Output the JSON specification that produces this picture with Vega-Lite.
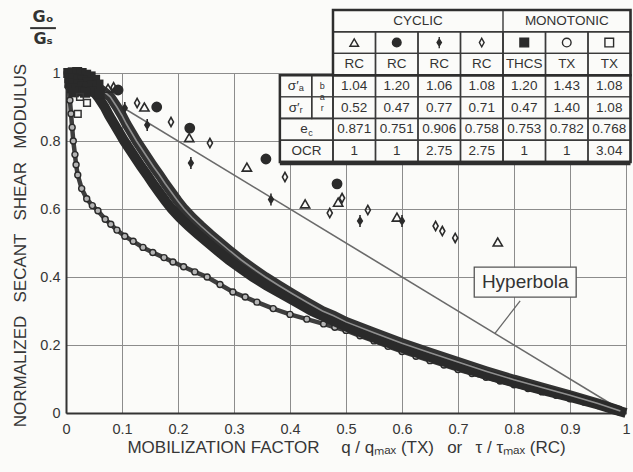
{
  "$schema": "https://vega.github.io/schema/vega-lite/v6.json",
  "width": 560,
  "height": 340,
  "autosize": {"type": "none"},
  "padding": {"left": 66, "top": 73, "right": 7, "bottom": 59},
  "background": "#fbfbf9",
  "config": {"view": {"stroke": null}, "font": "Liberation Sans"},
  "datasets": {
    "hyper": [{"x": 0, "y": 1}, {"x": 1, "y": 0}],
    "circ": [
      {"x": 0.002, "y": 1.0}, {"x": 0.004, "y": 0.96}, {"x": 0.007, "y": 0.92}, {"x": 0.009, "y": 0.88}, {"x": 0.011, "y": 0.84}, {"x": 0.013, "y": 0.8}, {"x": 0.016, "y": 0.76}, {"x": 0.018, "y": 0.73}, {"x": 0.021, "y": 0.7}, {"x": 0.028, "y": 0.66}, {"x": 0.037, "y": 0.63}, {"x": 0.047, "y": 0.61}, {"x": 0.057, "y": 0.595}, {"x": 0.07, "y": 0.57}, {"x": 0.08, "y": 0.555}, {"x": 0.091, "y": 0.538}, {"x": 0.105, "y": 0.52}, {"x": 0.12, "y": 0.505}, {"x": 0.1375, "y": 0.487}, {"x": 0.155, "y": 0.472}, {"x": 0.175, "y": 0.457}, {"x": 0.191, "y": 0.444}, {"x": 0.21, "y": 0.43}, {"x": 0.23, "y": 0.415}, {"x": 0.252, "y": 0.4}, {"x": 0.275, "y": 0.378}, {"x": 0.298, "y": 0.356}, {"x": 0.32, "y": 0.341}, {"x": 0.341, "y": 0.326}, {"x": 0.37, "y": 0.307}, {"x": 0.4, "y": 0.29}, {"x": 0.43, "y": 0.276}, {"x": 0.46, "y": 0.262}, {"x": 0.48, "y": 0.252}, {"x": 0.5, "y": 0.243}, {"x": 0.525, "y": 0.227}, {"x": 0.55, "y": 0.212}, {"x": 0.575, "y": 0.196}, {"x": 0.6, "y": 0.181}, {"x": 0.625, "y": 0.167}, {"x": 0.65, "y": 0.154}, {"x": 0.675, "y": 0.141}, {"x": 0.7, "y": 0.128}, {"x": 0.725, "y": 0.116}, {"x": 0.75, "y": 0.105}, {"x": 0.775, "y": 0.094}, {"x": 0.8, "y": 0.083}, {"x": 0.825, "y": 0.072}, {"x": 0.85, "y": 0.062}, {"x": 0.875, "y": 0.052}, {"x": 0.9, "y": 0.042}, {"x": 0.925, "y": 0.032}, {"x": 0.95, "y": 0.022}, {"x": 0.97, "y": 0.013}, {"x": 0.99, "y": 0.004}
    ],
    "bandA": [
      {"x": 0.03, "y": 0.975}, {"x": 0.045, "y": 0.955}, {"x": 0.057, "y": 0.93}, {"x": 0.069, "y": 0.9}, {"x": 0.077, "y": 0.875}, {"x": 0.086, "y": 0.85}, {"x": 0.095, "y": 0.825}, {"x": 0.104, "y": 0.8}, {"x": 0.114, "y": 0.775}, {"x": 0.124, "y": 0.75}, {"x": 0.134, "y": 0.725}, {"x": 0.145, "y": 0.7}, {"x": 0.155, "y": 0.675}, {"x": 0.166, "y": 0.65}, {"x": 0.177, "y": 0.625}, {"x": 0.189, "y": 0.6}, {"x": 0.203, "y": 0.575}, {"x": 0.219, "y": 0.55}, {"x": 0.236, "y": 0.525}, {"x": 0.254, "y": 0.5}, {"x": 0.272, "y": 0.475}, {"x": 0.291, "y": 0.45}, {"x": 0.312, "y": 0.425}, {"x": 0.334, "y": 0.4}, {"x": 0.358, "y": 0.375}, {"x": 0.385, "y": 0.35}, {"x": 0.412, "y": 0.325}, {"x": 0.439, "y": 0.3}, {"x": 0.468, "y": 0.278}, {"x": 0.5, "y": 0.255}, {"x": 0.55, "y": 0.222}, {"x": 0.6, "y": 0.192}, {"x": 0.65, "y": 0.165}, {"x": 0.7, "y": 0.138}, {"x": 0.75, "y": 0.113}, {"x": 0.8, "y": 0.09}, {"x": 0.85, "y": 0.068}, {"x": 0.9, "y": 0.047}, {"x": 0.95, "y": 0.025}, {"x": 0.98, "y": 0.01}, {"x": 1.0, "y": 0.0}
    ],
    "bandB": [
      {"x": 0.05, "y": 0.965}, {"x": 0.068, "y": 0.945}, {"x": 0.079, "y": 0.93}, {"x": 0.091, "y": 0.9}, {"x": 0.1, "y": 0.875}, {"x": 0.108, "y": 0.85}, {"x": 0.117, "y": 0.825}, {"x": 0.126, "y": 0.8}, {"x": 0.136, "y": 0.775}, {"x": 0.146, "y": 0.75}, {"x": 0.156, "y": 0.725}, {"x": 0.167, "y": 0.7}, {"x": 0.177, "y": 0.675}, {"x": 0.188, "y": 0.65}, {"x": 0.199, "y": 0.625}, {"x": 0.211, "y": 0.6}, {"x": 0.225, "y": 0.575}, {"x": 0.241, "y": 0.55}, {"x": 0.258, "y": 0.525}, {"x": 0.276, "y": 0.5}, {"x": 0.294, "y": 0.475}, {"x": 0.313, "y": 0.45}, {"x": 0.334, "y": 0.425}, {"x": 0.356, "y": 0.4}, {"x": 0.38, "y": 0.375}, {"x": 0.405, "y": 0.35}, {"x": 0.431, "y": 0.325}, {"x": 0.458, "y": 0.3}, {"x": 0.478, "y": 0.286}, {"x": 0.5, "y": 0.268}, {"x": 0.55, "y": 0.236}, {"x": 0.6, "y": 0.205}, {"x": 0.65, "y": 0.177}, {"x": 0.7, "y": 0.15}, {"x": 0.75, "y": 0.123}, {"x": 0.8, "y": 0.098}, {"x": 0.85, "y": 0.075}, {"x": 0.9, "y": 0.052}, {"x": 0.95, "y": 0.028}, {"x": 0.99, "y": 0.006}
    ],
    "cluster": [
      {"x": 0.004, "y": 1.0}, {"x": 0.012, "y": 1.002}, {"x": 0.02, "y": 1.003}, {"x": 0.028, "y": 1.0}, {"x": 0.036, "y": 0.995}, {"x": 0.044, "y": 0.99}, {"x": 0.052, "y": 0.98}, {"x": 0.058, "y": 0.966},
      {"x": 0.006, "y": 0.985}, {"x": 0.014, "y": 0.984}, {"x": 0.022, "y": 0.982}, {"x": 0.03, "y": 0.978}, {"x": 0.038, "y": 0.972}, {"x": 0.046, "y": 0.962}, {"x": 0.054, "y": 0.95},
      {"x": 0.006, "y": 0.97}, {"x": 0.014, "y": 0.968}, {"x": 0.022, "y": 0.965}, {"x": 0.03, "y": 0.96}, {"x": 0.038, "y": 0.954}, {"x": 0.046, "y": 0.945},
      {"x": 0.01, "y": 0.955}, {"x": 0.018, "y": 0.95}, {"x": 0.026, "y": 0.946}, {"x": 0.034, "y": 0.942}, {"x": 0.06, "y": 0.94}, {"x": 0.014, "y": 0.943}
    ],
    "osq": [{"x": 0.025, "y": 0.93}, {"x": 0.0375, "y": 0.912}, {"x": 0.021, "y": 0.88}],
    "cyc": [
      {"x": 0.075, "y": 0.955, "s": "tri"}, {"x": 0.14, "y": 0.9, "s": "tri"}, {"x": 0.22, "y": 0.81, "s": "tri"}, {"x": 0.323, "y": 0.723, "s": "tri"}, {"x": 0.427, "y": 0.615, "s": "tri"}, {"x": 0.486, "y": 0.62, "s": "tri"}, {"x": 0.591, "y": 0.576, "s": "tri"}, {"x": 0.771, "y": 0.503, "s": "tri"},
      {"x": 0.093, "y": 0.95, "s": "dot"}, {"x": 0.162, "y": 0.9, "s": "dot"}, {"x": 0.221, "y": 0.838, "s": "dot"}, {"x": 0.357, "y": 0.747, "s": "dot"}, {"x": 0.484, "y": 0.674, "s": "dot"},
      {"x": 0.105, "y": 0.897, "s": "fdia"}, {"x": 0.145, "y": 0.847, "s": "fdia"}, {"x": 0.223, "y": 0.735, "s": "fdia"}, {"x": 0.366, "y": 0.628, "s": "fdia"}, {"x": 0.525, "y": 0.565, "s": "fdia"}, {"x": 0.6, "y": 0.565, "s": "fdia"},
      {"x": 0.085, "y": 0.958, "s": "odia"}, {"x": 0.127, "y": 0.912, "s": "odia"}, {"x": 0.1875, "y": 0.856, "s": "odia"}, {"x": 0.257, "y": 0.794, "s": "odia"}, {"x": 0.391, "y": 0.694, "s": "odia"}, {"x": 0.493, "y": 0.632, "s": "odia"}, {"x": 0.471, "y": 0.588, "s": "odia"}, {"x": 0.539, "y": 0.597, "s": "odia"}, {"x": 0.66, "y": 0.55, "s": "odia"}, {"x": 0.672, "y": 0.535, "s": "odia"}, {"x": 0.695, "y": 0.515, "s": "odia"}
    ],
    "tabrows": [
      {"u0": 0, "u1": 7, "r0": 0, "r1": 1}, {"u0": 0, "u1": 7, "r0": 1, "r1": 2}, {"u0": 0, "u1": 7, "r0": 2, "r1": 3},
      {"u0": -1.25, "u1": 7, "r0": 3, "r1": 4}, {"u0": -1.25, "u1": 7, "r0": 4, "r1": 5}, {"u0": -1.25, "u1": 7, "r0": 5, "r1": 6}, {"u0": -1.25, "u1": 7, "r0": 6, "r1": 7}
    ],
    "tabcols": [
      {"u0": 0, "u1": 4, "r0": 0, "r1": 7}, {"u0": 0, "u1": 1, "r0": 1, "r1": 7}, {"u0": 1, "u1": 2, "r0": 1, "r1": 7}, {"u0": 2, "u1": 3, "r0": 1, "r1": 7}, {"u0": 3, "u1": 4, "r0": 1, "r1": 7}, {"u0": 4, "u1": 5, "r0": 1, "r1": 7}, {"u0": 5, "u1": 6, "r0": 1, "r1": 7}, {"u0": 6, "u1": 7, "r0": 1, "r1": 7},
      {"u0": -1.25, "u1": -0.5, "r0": 3, "r1": 5}, {"u0": -0.5, "u1": 0, "r0": 3, "r1": 5}, {"u0": -1.25, "u1": 0, "r0": 3, "r1": 7}
    ],
    "tabouter": [
      {"u0": 0, "u1": 7, "r0": 0, "r1": 3}, {"u0": -1.25, "u1": 7, "r0": 3, "r1": 7}
    ],
    "tabtext": [
      {"c": 2, "r": 0.5, "t": "CYCLIC"}, {"c": 5.5, "r": 0.5, "t": "MONOTONIC"},
      {"c": 0.5, "r": 2.5, "t": "RC"}, {"c": 1.5, "r": 2.5, "t": "RC"}, {"c": 2.5, "r": 2.5, "t": "RC"}, {"c": 3.5, "r": 2.5, "t": "RC"}, {"c": 4.5, "r": 2.5, "t": "THCS"}, {"c": 5.5, "r": 2.5, "t": "TX"}, {"c": 6.5, "r": 2.5, "t": "TX"},
      {"c": 0.5, "r": 3.5, "t": "1.04"}, {"c": 1.5, "r": 3.5, "t": "1.20"}, {"c": 2.5, "r": 3.5, "t": "1.06"}, {"c": 3.5, "r": 3.5, "t": "1.08"}, {"c": 4.5, "r": 3.5, "t": "1.20"}, {"c": 5.5, "r": 3.5, "t": "1.43"}, {"c": 6.5, "r": 3.5, "t": "1.08"},
      {"c": 0.5, "r": 4.5, "t": "0.52"}, {"c": 1.5, "r": 4.5, "t": "0.47"}, {"c": 2.5, "r": 4.5, "t": "0.77"}, {"c": 3.5, "r": 4.5, "t": "0.71"}, {"c": 4.5, "r": 4.5, "t": "0.47"}, {"c": 5.5, "r": 4.5, "t": "1.40"}, {"c": 6.5, "r": 4.5, "t": "1.08"},
      {"c": 0.5, "r": 5.5, "t": "0.871"}, {"c": 1.5, "r": 5.5, "t": "0.751"}, {"c": 2.5, "r": 5.5, "t": "0.906"}, {"c": 3.5, "r": 5.5, "t": "0.758"}, {"c": 4.5, "r": 5.5, "t": "0.753"}, {"c": 5.5, "r": 5.5, "t": "0.782"}, {"c": 6.5, "r": 5.5, "t": "0.768"},
      {"c": 0.5, "r": 6.5, "t": "1"}, {"c": 1.5, "r": 6.5, "t": "1"}, {"c": 2.5, "r": 6.5, "t": "2.75"}, {"c": 3.5, "r": 6.5, "t": "2.75"}, {"c": 4.5, "r": 6.5, "t": "1"}, {"c": 5.5, "r": 6.5, "t": "1"}, {"c": 6.5, "r": 6.5, "t": "3.04"},
      {"c": -0.875, "r": 3.5, "t": "σ′ₐ"}, {"c": -0.875, "r": 4.5, "t": "σ′ᵣ"}, {"c": -0.68, "r": 5.5, "t": "e"}, {"c": -0.625, "r": 6.5, "t": "OCR"}
    ],
    "tabsmall": [
      {"c": -0.25, "r": 3.5, "t": "b"}, {"c": -0.25, "r": 4.0, "t": "a"}, {"c": -0.25, "r": 4.5, "t": "r"}, {"c": -0.53, "r": 5.65, "t": "c"}
    ],
    "tabsym": [
      {"c": 0.5, "r": 1.5, "s": "tri"}, {"c": 1.5, "r": 1.5, "s": "dot"}, {"c": 2.5, "r": 1.5, "s": "fdia"}, {"c": 3.5, "r": 1.5, "s": "odia"}, {"c": 4.5, "r": 1.5, "s": "sq"}, {"c": 5.5, "r": 1.5, "s": "circ"}, {"c": 6.5, "r": 1.5, "s": "osq"}
    ]
  },
  "layer": [
    {
      "layer": [
        {
          "data": {"name": "hyper"},
          "mark": {"type": "line", "color": "#6a6a6a", "strokeWidth": 1.6},
          "encoding": {
            "x": {"field": "x", "type": "quantitative", "scale": {"domain": [0, 1], "nice": false, "zero": false},
              "axis": {"values": [0, 0.1, 0.2, 0.3, 0.4, 0.5, 0.6, 0.7, 0.8, 0.9, 1], "labelExpr": "format(datum.value, '~g')", "grid": true, "gridColor": "#8c8c8c", "gridWidth": 1, "ticks": false, "domainColor": "#333333", "domainWidth": 2, "labelFontSize": 14.5, "labelColor": "#363636", "labelPadding": 9, "labelFlush": false, "title": "MOBILIZATION FACTOR\u2003 q / qₘₐₓ (TX)\u2002 or\u2002 τ / τₘₐₓ (RC)", "titleFontSize": 17, "titleFontWeight": "normal", "titleColor": "#363636", "titlePadding": 4}},
            "y": {"field": "y", "type": "quantitative", "scale": {"domain": [0, 1], "nice": false, "zero": false},
              "axis": {"values": [0, 0.1, 0.2, 0.3, 0.4, 0.5, 0.6, 0.7, 0.8, 0.9, 1], "labelExpr": "round(datum.value * 10) % 2 == 0 ? format(datum.value, '~g') : ''", "grid": true, "gridColor": "#8c8c8c", "gridWidth": 1, "ticks": false, "domainColor": "#333333", "domainWidth": 2, "labelFontSize": 14.5, "labelColor": "#363636", "labelPadding": 6, "labelFlush": false, "title": "NORMALIZED \u2002SECANT \u2002SHEAR \u2002MODULUS", "titleFontSize": 17, "titleFontWeight": "normal", "titleColor": "#363636", "titlePadding": 10, "titleY": 172}}
          }
        },
        {
          "data": {"values": [{}]},
          "mark": {"type": "rule", "color": "#666666", "strokeWidth": 1.3},
          "encoding": {"x": {"datum": 0.811}, "y": {"datum": 0.33}, "x2": {"datum": 0.766}, "y2": {"datum": 0.234}}
        },
        {
          "data": {"name": "circ"},
          "mark": {"type": "line", "color": "#3e3e3e", "strokeWidth": 4.5},
          "encoding": {"x": {"field": "x", "type": "quantitative"}, "y": {"field": "y", "type": "quantitative"}, "order": {"field": "x"}}
        },
        {
          "data": {"name": "circ"},
          "mark": {"type": "point", "shape": "circle", "size": 36, "filled": true, "fill": "#b4b4b4", "stroke": "#2a2a2a", "strokeWidth": 1.4, "opacity": 1},
          "encoding": {"x": {"field": "x", "type": "quantitative"}, "y": {"field": "y", "type": "quantitative"}}
        },
        {
          "data": {"name": "bandB"},
          "mark": {"type": "line", "color": "#333333", "strokeWidth": 10},
          "encoding": {"x": {"field": "x", "type": "quantitative"}, "y": {"field": "y", "type": "quantitative"}, "order": {"field": "x"}}
        },
        {
          "data": {"name": "bandA"},
          "mark": {"type": "line", "color": "#2a2a2a", "strokeWidth": 10},
          "encoding": {"x": {"field": "x", "type": "quantitative"}, "y": {"field": "y", "type": "quantitative"}, "order": {"field": "x"}}
        },
        {
          "data": {"name": "bandB"},
          "mark": {"type": "line", "color": "#8f8f8f", "strokeWidth": 1.6},
          "encoding": {"x": {"field": "x", "type": "quantitative"}, "y": {"field": "y", "type": "quantitative"}, "order": {"field": "x"}}
        },
        {
          "data": {"name": "cluster"},
          "mark": {"type": "point", "shape": "square", "size": 100, "filled": true, "color": "#2a2a2a", "opacity": 1},
          "encoding": {"x": {"field": "x", "type": "quantitative"}, "y": {"field": "y", "type": "quantitative"}}
        },
        {
          "data": {"name": "osq"},
          "mark": {"type": "point", "shape": "square", "size": 45, "filled": false, "stroke": "#333333", "strokeWidth": 1.5, "opacity": 1},
          "encoding": {"x": {"field": "x", "type": "quantitative"}, "y": {"field": "y", "type": "quantitative"}}
        },
        {
          "data": {"name": "cyc"},
          "mark": {"type": "point", "filled": true, "size": 85, "stroke": "#2b2b2b", "strokeWidth": 1.6, "opacity": 1},
          "encoding": {
            "x": {"field": "x", "type": "quantitative"},
            "y": {"field": "y", "type": "quantitative"},
            "shape": {"field": "s", "type": "nominal", "legend": null, "scale": {"domain": ["tri", "dot", "fdia", "odia", "sq", "circ", "osq"], "range": ["triangle-up", "circle", "M0,-1.3L0,1.3M0,-0.8L0.5,0L0,0.8L-0.5,0Z", "M0,-1L0.55,0L0,1L-0.55,0Z", "square", "circle", "square"]}},
            "fill": {"field": "s", "type": "nominal", "legend": null, "scale": {"domain": ["tri", "dot", "fdia", "odia", "sq", "circ", "osq"], "range": ["transparent", "#2b2b2b", "#2b2b2b", "transparent", "#2b2b2b", "transparent", "transparent"]}}
          }
        },
        {
          "data": {"values": [{}]},
          "mark": {"type": "rect", "fill": "#555555", "xOffset": 2, "yOffset": 2},
          "encoding": {"x": {"datum": 0.729}, "x2": {"datum": 0.911}, "y": {"datum": 0.429}, "y2": {"datum": 0.341}}
        },
        {
          "data": {"values": [{}]},
          "mark": {"type": "rect", "fill": "#fbfbf9", "stroke": "#555555", "strokeWidth": 1.3},
          "encoding": {"x": {"datum": 0.729}, "x2": {"datum": 0.911}, "y": {"datum": 0.429}, "y2": {"datum": 0.341}}
        },
        {
          "data": {"values": [{}]},
          "mark": {"type": "text", "text": "Hyperbola", "fontSize": 19, "color": "#333333", "align": "center", "baseline": "middle"},
          "encoding": {"x": {"datum": 0.82}, "y": {"datum": 0.385}}
        },
        {
          "data": {"values": [{}]},
          "mark": {"type": "text", "text": "Gₒ", "fontSize": 16, "fontWeight": "bold", "color": "#333333", "align": "center", "baseline": "middle", "font": "DejaVu Sans"},
          "encoding": {"x": {"datum": -0.041}, "y": {"datum": 1.165}}
        },
        {
          "data": {"values": [{}]},
          "mark": {"type": "text", "text": "Gₛ", "fontSize": 16, "fontWeight": "bold", "color": "#333333", "align": "center", "baseline": "middle", "font": "DejaVu Sans"},
          "encoding": {"x": {"datum": -0.041}, "y": {"datum": 1.1}}
        },
        {
          "data": {"values": [{}]},
          "mark": {"type": "rule", "color": "#333333", "strokeWidth": 2},
          "encoding": {"x": {"datum": -0.064}, "x2": {"datum": -0.018}, "y": {"datum": 1.132}}
        }
      ]
    },
    {
      "layer": [
        {
          "data": {"name": "tabrows"},
          "mark": {"type": "rect", "fill": "#fbfbf9", "stroke": "#3a3a3a", "strokeWidth": 1.4},
          "encoding": {
            "x": {"field": "u0", "type": "quantitative", "axis": null, "scale": {"domain": [-6.282, 6.894], "nice": false, "zero": false}},
            "x2": {"field": "u1"},
            "y": {"field": "r0", "type": "quantitative", "axis": null, "scale": {"domain": [2.902, 18.563], "reverse": true, "nice": false, "zero": false}},
            "y2": {"field": "r1"}
          }
        },
        {
          "data": {"name": "tabcols"},
          "mark": {"type": "rect", "fillOpacity": 0, "stroke": "#3a3a3a", "strokeWidth": 1.4},
          "encoding": {
            "x": {"field": "u0", "type": "quantitative"}, "x2": {"field": "u1"},
            "y": {"field": "r0", "type": "quantitative"}, "y2": {"field": "r1"}
          }
        },
        {
          "data": {"name": "tabouter"},
          "mark": {"type": "rect", "fillOpacity": 0, "stroke": "#2e2e2e", "strokeWidth": 2.5},
          "encoding": {
            "x": {"field": "u0", "type": "quantitative"}, "x2": {"field": "u1"},
            "y": {"field": "r0", "type": "quantitative"}, "y2": {"field": "r1"}
          }
        },
        {
          "data": {"values": [{}]},
          "mark": {"type": "rule", "color": "#2e2e2e", "strokeWidth": 4.5},
          "encoding": {"x": {"datum": -1.25}, "x2": {"datum": 7}, "y": {"datum": 7.05}}
        },
        {
          "data": {"name": "tabtext"},
          "mark": {"type": "text", "fontSize": 13.5, "color": "#333333", "align": "center", "baseline": "middle"},
          "encoding": {"x": {"field": "c", "type": "quantitative"}, "y": {"field": "r", "type": "quantitative"}, "text": {"field": "t"}}
        },
        {
          "data": {"name": "tabsmall"},
          "mark": {"type": "text", "fontSize": 9, "color": "#333333", "align": "center", "baseline": "middle"},
          "encoding": {"x": {"field": "c", "type": "quantitative"}, "y": {"field": "r", "type": "quantitative"}, "text": {"field": "t"}}
        },
        {
          "data": {"name": "tabsym"},
          "mark": {"type": "point", "filled": true, "size": 75, "stroke": "#2b2b2b", "strokeWidth": 1.4, "opacity": 1},
          "encoding": {
            "x": {"field": "c", "type": "quantitative"},
            "y": {"field": "r", "type": "quantitative"},
            "shape": {"field": "s", "type": "nominal", "legend": null, "scale": {"domain": ["tri", "dot", "fdia", "odia", "sq", "circ", "osq"], "range": ["triangle-up", "circle", "M0,-1.3L0,1.3M0,-0.8L0.5,0L0,0.8L-0.5,0Z", "M0,-1L0.55,0L0,1L-0.55,0Z", "square", "circle", "square"]}},
            "fill": {"field": "s", "type": "nominal", "legend": null, "scale": {"domain": ["tri", "dot", "fdia", "odia", "sq", "circ", "osq"], "range": ["transparent", "#2b2b2b", "#2b2b2b", "transparent", "#2b2b2b", "transparent", "transparent"]}}
          }
        }
      ]
    }
  ],
  "resolve": {"scale": {"x": "independent", "y": "independent"}}
}
